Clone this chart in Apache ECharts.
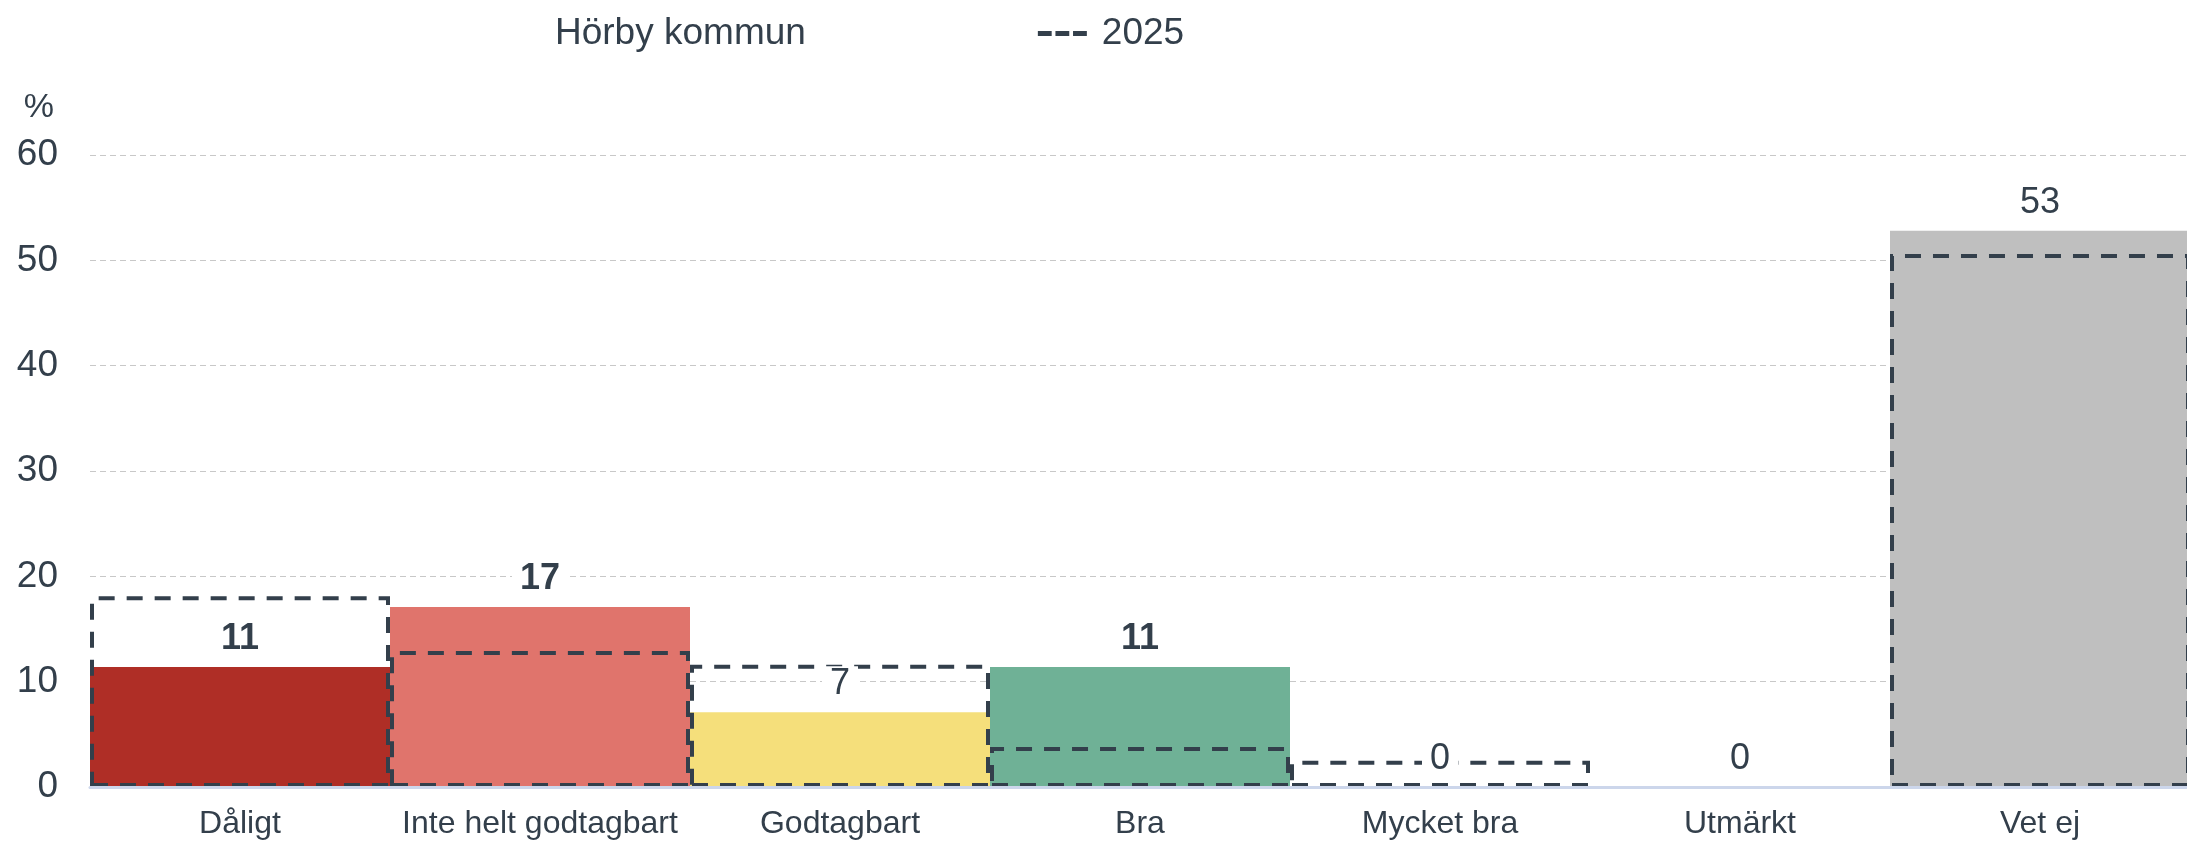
<!DOCTYPE html>
<html>
<head>
<meta charset="utf-8">
<title>Hörby kommun</title>
<script src="https://cdn.jsdelivr.net/npm/echarts@6/dist/echarts.min.js"></script>
<style>
	html, body { margin: 0; padding: 0; background: #fff; overflow: hidden; }
	#wrap { width: 2187px; height: 844px; overflow: hidden; position: relative; }
	#chart { width: 2200px; height: 844px; position: absolute; left: 0; top: 0; }
</style>
</head>
<body>
<div id="wrap"><div id="chart"></div></div>
<script>
// 分类与数据
var categories = ['Dåligt', 'Inte helt godtagbart', 'Godtagbart', 'Bra', 'Mycket bra', 'Utmärkt', 'Vet ej'];
var horbyValues = [11.4, 17.1, 7.1, 11.4, 0, 0, 52.8];
var horbyLabels = [11, 17, 7, 11, 0, 0, 53];
var values2025 = [18.1, 12.9, 11.6, 3.8, 2.5, null, 50.6];
var barColors = ['#af2e26', '#e0746c', '#f5df7b', '#6fb196', '#3f8f6b', '#1f6b4c', '#bfbfbf'];
var yTicks = [0, 10, 20, 30, 40, 50, 60];

var textColor = '#333f4b';
var fontFamily = 'Liberation Sans, Arial, sans-serif';

var chart = echarts.init(document.getElementById('chart'));

// 主柱子
var mainData = horbyValues.map(function(v, i) {
	return { value: v, itemStyle: { color: barColors[i] } };
});

// 只用来放标签的透明柱子, 放在最上层
var labelData = horbyValues.map(function(v, i) {
	return {
		value: v,
		label: { fontWeight: (i === 0 || i === 1 || i === 3) ? 'bold' : 'normal' }
	};
});

var option = {
	animation: false,
	textStyle: { fontFamily: fontFamily, color: textColor },
	legend: {
		left: 486,
		top: 10,
		itemGap: 232,
		itemWidth: 49,
		itemHeight: 6,
		selectedMode: false,
		textStyle: { color: textColor, fontSize: 37, fontFamily: fontFamily, padding: [0, 0, 0, 10] },
		data: [
			{ name: 'Hörby kommun', icon: 'rect', itemStyle: { opacity: 0 } },
			{
				name: '2025',
				icon: 'path://M0,0h11v4h-11z M14,0h11v4h-11z M28,0h11v4h-11z',
				itemStyle: { color: textColor, borderWidth: 0 }
			}
		]
	},
	// 画布比窗口略宽, 最后一个虚线框的右边落在窗口外
	grid: {
		left: 90,
		width: 2100,
		top: 155,
		bottom: 57,
		containLabel: false,
		outerBoundsMode: 'none'
	},
	xAxis: {
		type: 'category',
		data: categories,
		z: 6,
		axisTick: { show: false },
		axisLine: { show: true, lineStyle: { color: '#ccd6eb', width: 3 } },
		axisLabel: {
			color: textColor,
			fontSize: 32,
			margin: 21,
			interval: 0
		}
	},
	yAxis: {
		type: 'value',
		min: yTicks[0],
		max: yTicks[yTicks.length - 1],
		interval: 10,
		name: '%',
		nameLocation: 'end',
		nameGap: 30,
		nameTextStyle: {
			color: textColor,
			fontSize: 34,
			align: 'right',
			padding: [0, 36, 0, 0]
		},
		axisLine: { show: false },
		axisTick: { show: false },
		axisLabel: { color: textColor, fontSize: 37, margin: 32 },
		splitLine: {
			lineStyle: { color: '#c8c8c8', width: 1, type: [6, 4] }
		}
	},
	series: [
		{
			name: 'Hörby kommun',
			type: 'bar',
			barWidth: '100%',
			barGap: '-100%',
			z: 2,
			data: mainData
		},
		{
			name: '2025',
			type: 'bar',
			barWidth: '100%',
			barGap: '-100%',
			z: 3,
			itemStyle: {
				color: 'rgba(0,0,0,0)',
				borderColor: textColor,
				borderWidth: 4,
				borderType: [16, 12]
			},
			data: values2025
		},
		{
			name: 'Hörby kommun',
			type: 'bar',
			barWidth: '100%',
			barGap: '-100%',
			z: 4,
			silent: true,
			itemStyle: { color: 'rgba(0,0,0,0)' },
			label: {
				show: true,
				position: 'top',
				distance: 10,
				color: textColor,
				fontSize: 36,
				backgroundColor: '#fff',
				padding: [0, 8],
				formatter: function(p) {
					return horbyLabels[p.dataIndex];
				}
			},
			data: labelData
		}
	]
};

chart.setOption(option);
// 窗口缩放自适应
window.onresize = function() {
	chart.resize();
};
</script>
</body>
</html>
